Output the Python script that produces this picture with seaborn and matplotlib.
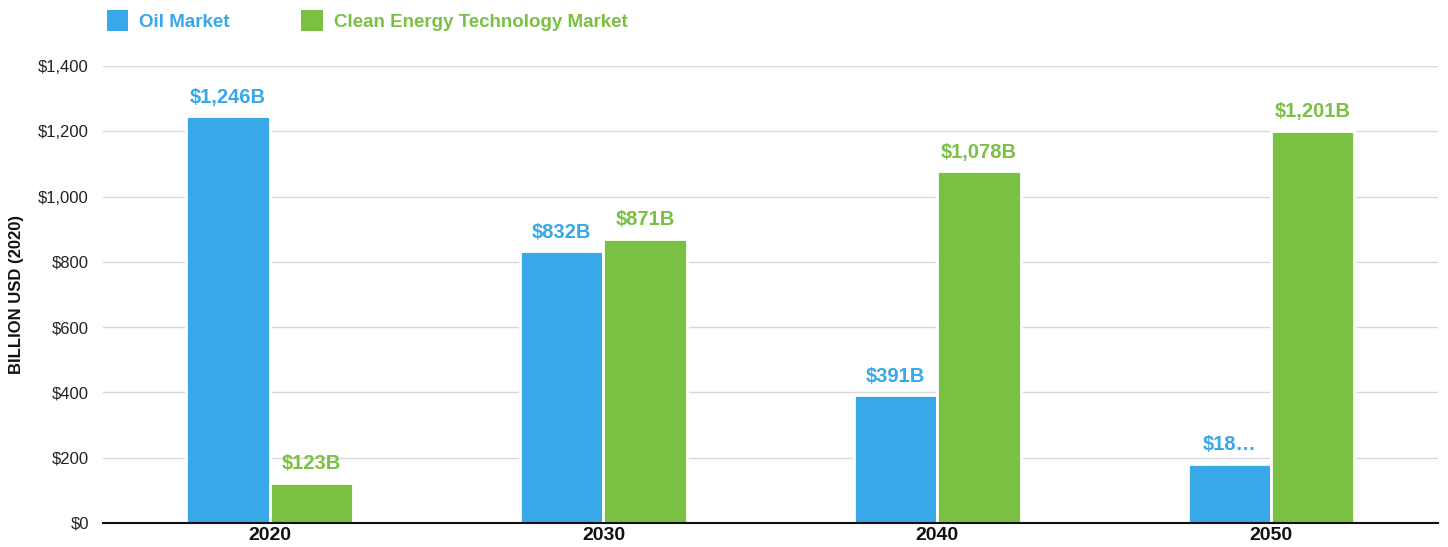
import matplotlib
matplotlib.use("Agg")
import matplotlib.pyplot as plt
import seaborn as sns
import pandas as pd
from matplotlib.patches import Patch

years = ["2020", "2030", "2040", "2050"]
series = ["Oil Market", "Clean Energy Technology Market"]
oil_values = [1246, 832, 391, 180]
clean_values = [123, 871, 1078, 1201]
oil_labels = ["$1,246B", "$832B", "$391B", "$18…"]
clean_labels = ["$123B", "$871B", "$1,078B", "$1,201B"]
yticks = [0, 200, 400, 600, 800, 1000, 1200, 1400]
ytick_labels = ["$0", "$200", "$400", "$600", "$800", "$1,000", "$1,200", "$1,400"]

colors = ["#38A8E8", "#7AC143"]

df = pd.DataFrame({
    "year": years * 2,
    "value": oil_values + clean_values,
    "series": [series[0]] * 4 + [series[1]] * 4,
})

sns.set_theme(style="white")
plt.rcParams["font.family"] = ["Liberation Sans", "DejaVu Sans"]

fig = plt.figure(figsize=(14.48, 5.47), dpi=100)
ax = fig.add_axes([0.071, 0.044, 0.922, 0.835])

sns.barplot(data=df, x="year", y="value", hue="series", order=years,
            hue_order=series, palette=colors, width=0.5, saturation=1,
            edgecolor="white", linewidth=2, legend=False, ax=ax)

ax.set_ylim(0, 1400)
ax.set_xlim(-0.5, 3.5)
ax.set_yticks(yticks)
ax.set_yticklabels(ytick_labels, fontsize=12, color="#222222")
ax.yaxis.grid(True, color="#d9d9d9", linewidth=1)
ax.set_axisbelow(True)
ax.tick_params(axis="both", length=0)
ax.tick_params(axis="y", pad=10)
ax.tick_params(axis="x", pad=3)
for lbl in ax.get_xticklabels():
    lbl.set_fontweight("bold")
    lbl.set_fontsize(14)
    lbl.set_color("#111111")
for s in ["top", "right", "left"]:
    ax.spines[s].set_visible(False)
ax.spines["bottom"].set_color("#111111")
ax.spines["bottom"].set_linewidth(1.5)

ax.set_xlabel("")
ax.set_ylabel("BILLION USD (2020)", fontsize=12, fontweight="bold", color="#111111", labelpad=10)

for cont, labs, col in zip(ax.containers, [oil_labels, clean_labels], colors):
    ax.bar_label(cont, labels=labs, padding=7, color=col, fontsize=14.5, fontweight="bold")

handles = [Patch(facecolor=c, edgecolor="none") for c in colors]
leg = fig.legend(handles, series, loc="upper left", bbox_to_anchor=(0.062, 1.012), ncol=2,
                 frameon=False, handlelength=1.15, handleheight=1.3, handletextpad=0.6,
                 columnspacing=3.8, prop={"size": 13.5, "weight": "bold"})
for t, c in zip(leg.get_texts(), colors):
    t.set_color(c)

fig.savefig("out.png", dpi=100)
